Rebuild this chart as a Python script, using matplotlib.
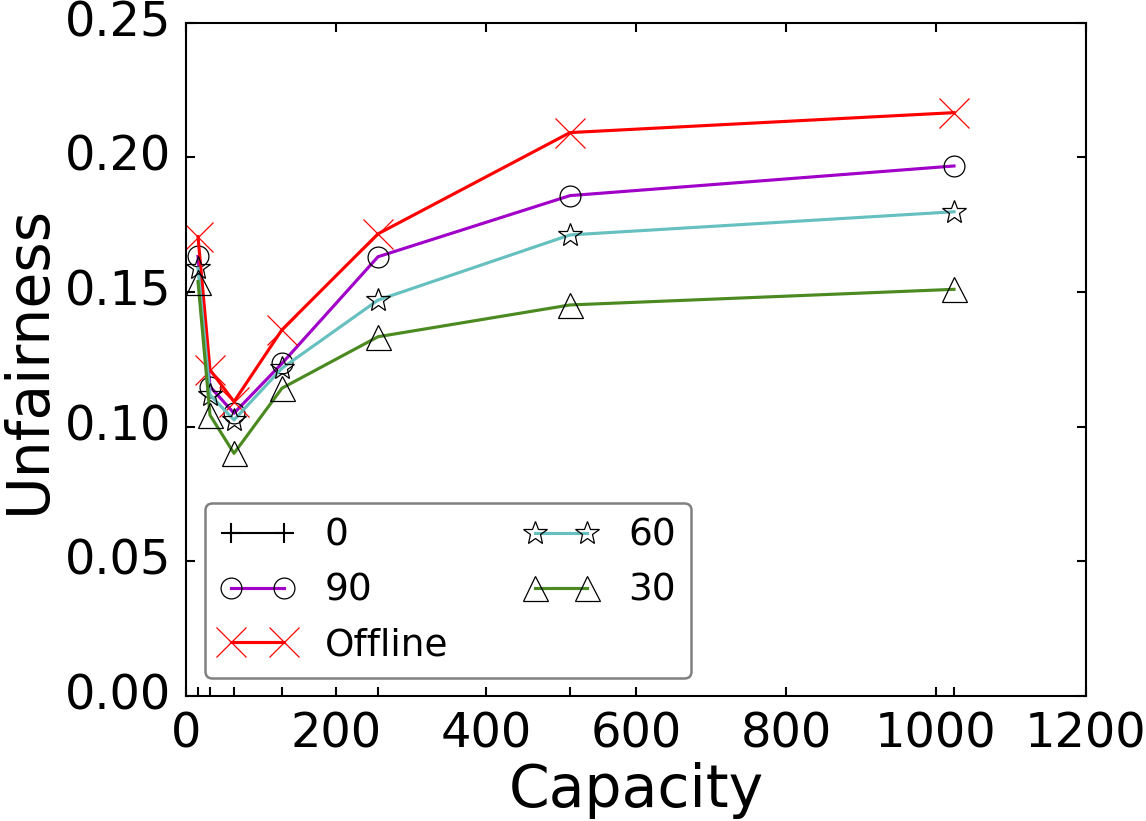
import matplotlib
matplotlib.use("Agg")
import matplotlib.pyplot as plt
from matplotlib.ticker import FixedLocator

plt.style.use('classic')
plt.rcParams['font.family'] = ['DejaVu Sans']

capacity = [16, 32, 64, 128, 256, 512, 1024]
series_0 = []  # not visible in the reference
series_90 = [0.1632, 0.1149, 0.1050, 0.1235, 0.1631, 0.1858, 0.1968]
series_offline = [0.1706, 0.1211, 0.1093, 0.1360, 0.1716, 0.2092, 0.2166]
series_60 = [0.1588, 0.1118, 0.1025, 0.1217, 0.1470, 0.1712, 0.1798]
series_30 = [0.1539, 0.1043, 0.0901, 0.1143, 0.1334, 0.1452, 0.1510]

fig = plt.figure(figsize=(1146/150, 821/150), dpi=150, facecolor='white')
ax = fig.add_axes([186/1146, 1-696/821, 900/1146, (696-22.7)/821])
ax.set_facecolor('white')

ms = 10
mew = 0.6
ax.plot(capacity[:len(series_0)], series_0, color='black', marker='+', ms=ms,
        mew=1.0, mec='black', label='0')
ax.plot(capacity, series_90, color='#a000c8', marker='o', ms=ms, mfc='none',
        mec='black', mew=mew, lw=1.5, label='90')
ax.plot(capacity, series_offline, color='#ff0000', marker='x', ms=ms + 4,
        mec='#ff0000', mew=mew, lw=1.5, label='Offline')
ax.plot(capacity, series_60, color='#66c0c0', marker='*', ms=ms + 2, mfc='none',
        mec='black', mew=mew, lw=1.5, label='60')
ax.plot(capacity, series_30, color='#4a8a20', marker='^', ms=ms + 2, mfc='none',
        mec='black', mew=mew, lw=1.5, label='30')

ax.set_xlim(0, 1200)
ax.set_ylim(0, 0.25)
ax.set_xticks([0, 200, 400, 600, 800, 1000, 1200])
ax.set_yticks([0.0, 0.05, 0.10, 0.15, 0.20, 0.25])
ax.set_yticklabels(['0.00', '0.05', '0.10', '0.15', '0.20', '0.25'])
ax.xaxis.set_minor_locator(FixedLocator(capacity))
ax.tick_params(which='major', direction='in', length=4.2, width=1,
               labelsize=23, pad=7, top=True, right=True)
ax.tick_params(axis='x', which='minor', direction='in', length=4.2, width=1,
               top=False, bottom=True)
ax.tick_params(axis='y', which='minor', left=False, right=False)

ax.set_xlabel('Capacity', fontsize=28, labelpad=2)
ax.set_ylabel('Unfairness', fontsize=28, labelpad=4)

leg = ax.legend(loc='lower left', bbox_to_anchor=(0.021, 0.026), ncol=2,
                fontsize=18, numpoints=2, fancybox=True, framealpha=1,
                borderaxespad=0, handlelength=2.0, columnspacing=2.0,
                handletextpad=0.8)
leg.get_frame().set_edgecolor('#808080')
leg.get_frame().set_linewidth(1.2)

fig.savefig('out.png', dpi=150, facecolor='white')
